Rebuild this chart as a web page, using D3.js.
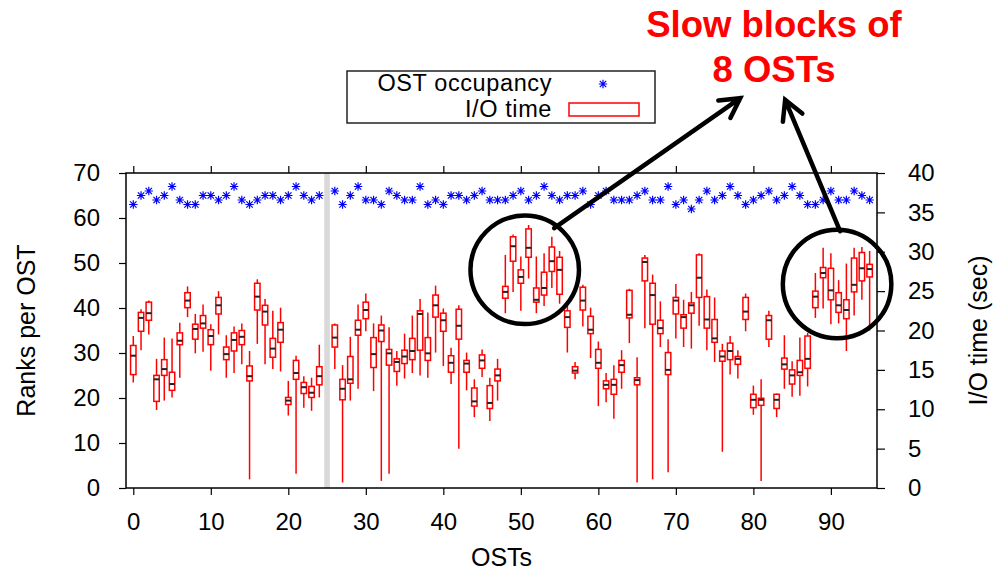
<!DOCTYPE html>
<html>
<head>
<meta charset="utf-8">
<script src="https://cdn.jsdelivr.net/npm/d3@7"></script>
<style>
  body { margin: 0; background: #fff; }
  svg { display: block; font-family: "Liberation Sans", Arial, Helvetica, sans-serif; }
</style>
</head>
<body>
<div id="container"></div>
<script>
// OST ids 0..95 (OST 25 has no data, marked with a gray bar)
const osts = d3.range(96);
const gapOst = 25;

// Ranks per OST (left axis)
const occupancy = [63,65,66,64,65,67,64,63,63,65, 65,64,65,67,64,63,64,65,65,64,
  65,67,65,64,65,null,66,63,65,67, 64,64,63,66,65,64,64,67,63,64,
  63,65,65,64,65,66,64,64,64,65, 66,64,65,67,65,64,65,65,66,63,
  65,66,64,64,64,65,66,64,64,67, 63,64,62,64,66,64,65,67,65,63,
  64,65,66,64,65,67,65,63,63,64, 66,64,64,66,65,64];

// I/O time (sec) box plots: whisker low, lower quartile, median, upper quartile, whisker high
const ioLow = [13.4,17.5,19.5,9.9,11.1,11.5,14.0,21.7,17.1,17.3, 14.9,19.5,14.0,14.6,15.7,1.1,18.3,15.7,15.1,14.8,
  9.2,1.8,10.2,9.8,11.5,null,15.1,0.7,11.1,12.6, 19.9,12.3,0.9,1.8,13.0,13.9,14.6,14.3,14.0,17.2,
  15.5,13.2,5.0,12.4,9.0,14.1,8.5,11.1,22.2,24.9, 22.5,26.6,22.2,23.1,25.4,23.4,17.2,13.8,20.5,16.5,
  10.4,10.9,8.8,12.6,18.4,0.7,20.3,1.1,17.9,2.0, 19.0,17.9,17.7,20.6,17.5,16.0,4.6,14.4,13.9,19.9,
  9.3,0.9,17.9,9.0,12.6,11.6,11.7,12.9,21.6,22.8, 20.8,20.9,17.4,21.9,23.9,20.0];
const ioQ1 = [14.4,19.9,21.3,11.0,14.3,12.4,18.2,22.9,18.9,20.3, 18.2,22.1,16.3,17.4,18.2,13.6,22.6,20.7,16.6,18.5,
  10.6,13.8,12.0,11.5,13.1,null,17.9,11.2,13.3,19.4, 21.5,15.3,18.6,15.6,14.8,15.8,16.3,17.5,16.2,21.7,
  19.9,14.7,18.9,14.7,10.4,15.2,10.1,13.6,24.1,28.8, 26.0,29.3,23.6,24.5,27.5,24.6,20.4,14.6,22.6,19.6,
  15.2,12.6,11.9,14.7,21.6,13.1,26.3,20.8,19.6,14.4, 22.1,20.3,22.2,24.2,20.3,18.5,16.1,16.3,15.7,21.4,
  10.2,10.5,18.9,10.1,15.1,13.2,14.3,15.2,22.9,26.7, 23.9,22.3,21.5,24.9,26.3,26.8];
const ioMed = [16.8,21.6,22.2,13.8,15.1,13.2,18.7,23.8,20.2,20.9, 19.3,23.2,17.0,18.8,19.2,14.2,24.3,22.4,17.7,20.1,
  11.1,14.6,12.8,12.1,14.2,null,19.1,12.6,13.8,20.1, 22.6,17.0,20.0,17.1,16.0,16.7,17.4,22.1,17.1,23.2,
  21.3,15.9,20.6,15.8,11.0,16.2,10.8,14.3,24.9,30.7, 26.8,30.5,23.9,25.4,28.8,27.7,21.7,14.9,23.8,20.1,
  15.9,13.1,13.1,15.6,22.0,13.7,28.7,24.5,20.3,15.0, 23.8,21.7,23.2,26.7,21.4,19.0,16.7,17.4,16.4,22.4,
  11.2,11.2,21.3,11.2,15.7,14.3,14.7,16.4,24.3,27.3, 25.1,23.2,22.6,25.8,27.9,27.8];
const ioQ3 = [18.1,22.3,23.6,14.3,16.3,14.7,19.7,24.8,20.8,21.9, 20.1,24.2,17.9,19.7,20.0,15.5,26.0,23.2,19.0,21.0,
  11.5,16.2,13.4,12.9,15.4,null,20.7,13.8,16.7,21.3, 23.6,19.1,20.7,17.6,16.4,17.5,19.0,22.5,19.1,24.5,
  22.2,16.8,22.7,16.2,12.7,16.9,13.0,15.1,25.6,31.9, 27.7,32.9,25.4,27.4,30.6,29.3,22.5,15.4,25.5,21.8,
  17.6,13.6,13.8,16.2,25.1,14.0,29.2,26.0,21.3,17.2, 24.2,22.0,23.5,29.6,24.3,21.4,17.4,18.4,16.7,24.2,
  11.9,11.4,21.9,11.9,16.5,15.0,16.2,19.3,25.0,28.0, 27.9,24.8,23.9,29.2,29.9,28.4];
const ioHigh = [19.3,22.7,23.8,16.4,19.1,19.0,21.0,25.6,22.1,23.3, 20.8,25.0,19.4,20.5,20.9,17.4,26.5,24.0,22.5,22.9,
  13.6,16.8,14.2,14.0,18.2,null,20.9,15.6,19.2,23.3, 24.7,20.9,21.9,20.4,17.4,19.6,21.9,24.0,22.3,25.7,
  22.8,17.8,23.2,17.2,13.8,17.6,14.0,16.4,29.6,32.2, 29.4,33.4,29.4,29.8,31.9,30.1,23.2,16.0,25.8,22.9,
  18.6,14.6,15.6,17.5,25.3,16.6,29.6,27.1,23.7,18.9, 25.9,23.9,24.9,29.8,25.2,24.2,18.3,19.3,17.5,24.7,
  13.0,13.8,22.5,12.0,19.4,16.1,19.1,19.7,27.3,30.5, 29.8,26.4,28.5,30.5,30.6,30.1];

// axis ticks
const xTicks = [0,10,20,30,40,50,60,70,80,90];
const rankTicks = [0,10,20,30,40,50,60,70];
const timeTicks = [0,5,10,15,20,25,30,35,40];

// annotation: circled slow blocks (center OST, center sec) and arrows (tail -> tip, in OST / sec)
const slowBlocks = [{ost: 50.5, sec: 27.7}, {ost: 90.8, sec: 25.9}];
const arrows = [
  {from: [54.3, 33.0], to: [78.3, 49.5]},
  {from: [91.2, 32.6], to: [84.1, 49.3]}
];

const W = 994, H = 571;
const margin = {top: 173, right: 117, bottom: 83, left: 126};
const w = W - margin.left - margin.right;
const h = H - margin.top - margin.bottom;
const FONT = 24;

const svg = d3.select("#container").append("svg")
  .attr("width", W).attr("height", H);

const g = svg.append("g").attr("transform", `translate(${margin.left},${margin.top})`);

//SCALES
const x = d3.scaleLinear().domain([-0.94, 95.95]).range([0, w]);
const yRank = d3.scaleLinear().domain([0, 70]).range([h, 0]);
const yTime = d3.scaleLinear().domain([0, 40]).range([h, 0]);

//AXES
function styleAxis(sel) {
  sel.attr("font-size", null).attr("font-family", null);
  sel.select(".domain").remove();
  sel.selectAll(".tick line").attr("stroke", "#000").attr("stroke-width", 1.2);
  sel.selectAll(".tick text").attr("fill", "#000").style("font-size", FONT + "px");
}

g.append("g").attr("transform", `translate(0,${h})`)
  .call(d3.axisBottom(x).tickValues(xTicks).tickSize(7).tickPadding(18))
  .call(styleAxis);
g.append("g")
  .call(d3.axisTop(x).tickValues(xTicks).tickSize(7).tickFormat(""))
  .call(styleAxis);
g.append("g")
  .call(d3.axisLeft(yRank).tickValues(rankTicks).tickSize(7).tickPadding(19))
  .call(styleAxis);
g.append("g").attr("transform", `translate(${w},0)`)
  .call(d3.axisRight(yTime).tickValues(timeTicks).tickSize(8).tickPadding(23))
  .call(styleAxis);

//GAP MARKER
g.append("rect")
  .attr("x", x(gapOst) - 2.8).attr("y", 0)
  .attr("width", 5.6).attr("height", h)
  .attr("fill", "#d9d9d9");

//BOX PLOTS
const boxes = osts.filter(i => ioMed[i] != null);
const bw = x(0.7) - x(0);
const bg = g.append("g");
bg.selectAll("line.whisk").data(boxes).enter().append("line")
  .attr("class", "whisk")
  .attr("x1", i => x(i)).attr("x2", i => x(i))
  .attr("y1", i => yTime(ioLow[i])).attr("y2", i => yTime(ioHigh[i]))
  .attr("stroke", "#ff0000").attr("stroke-width", 1.5);
bg.selectAll("rect").data(boxes).enter().append("rect")
  .attr("x", i => x(i) - bw / 2)
  .attr("y", i => yTime(ioQ3[i]))
  .attr("width", bw)
  .attr("height", i => yTime(ioQ1[i]) - yTime(ioQ3[i]))
  .attr("fill", "#fff").attr("stroke", "#ff0000").attr("stroke-width", 1.5);
bg.selectAll("line.med").data(boxes).enter().append("line")
  .attr("class", "med")
  .attr("x1", i => x(i) - bw / 2).attr("x2", i => x(i) + bw / 2)
  .attr("y1", i => yTime(ioMed[i])).attr("y2", i => yTime(ioMed[i]))
  .attr("stroke", "#222").attr("stroke-width", 2);

//OCCUPANCY STARS
const star = "M-4.2,0H4.2M0,-4.2V4.2M-3.2,-3.2L3.2,3.2M-3.2,3.2L3.2,-3.2";
g.append("g").selectAll("path")
  .data(osts.filter(i => occupancy[i] != null)).enter().append("path")
  .attr("d", star)
  .attr("transform", i => `translate(${x(i)},${yRank(occupancy[i])})`)
  .attr("stroke", "#0000ff").attr("stroke-width", 1.2).attr("fill", "none");

//FRAME
g.append("rect").attr("width", w).attr("height", h)
  .attr("fill", "none").attr("stroke", "#000").attr("stroke-width", 1.5);

//AXIS TITLES
svg.append("text").attr("x", margin.left + w / 2).attr("y", 566)
  .attr("text-anchor", "middle").style("font-size", "25px").text("OSTs");
svg.append("text").attr("transform", `translate(35,${margin.top + h / 2}) rotate(-90)`)
  .attr("text-anchor", "middle").style("font-size", "25px").text("Ranks per OST");
svg.append("text").attr("transform", `translate(987,${margin.top + h / 2}) rotate(-90)`)
  .attr("text-anchor", "middle").style("font-size", "25px").text("I/O time (sec)");

//LEGEND
const legend = svg.append("g");
legend.append("rect").attr("x", 347).attr("y", 71).attr("width", 308).attr("height", 52)
  .attr("fill", "#fff").attr("stroke", "#222").attr("stroke-width", 1.5);
legend.append("text").attr("x", 552).attr("y", 90.5).attr("text-anchor", "end")
  .style("font-size", "23.5px").style("letter-spacing", "0.6px").text("OST occupancy");
legend.append("path").attr("d", star).attr("transform", "translate(603,84)")
  .attr("stroke", "#0000ff").attr("stroke-width", 1.2);
legend.append("text").attr("x", 552).attr("y", 117).attr("text-anchor", "end")
  .style("font-size", "23.5px").style("letter-spacing", "0.6px").text("I/O time");
legend.append("rect").attr("x", 569).attr("y", 103).attr("width", 70).attr("height", 13)
  .attr("fill", "none").attr("stroke", "#ff0000").attr("stroke-width", 1.5);

//ANNOTATION
const ann = g.append("g");
ann.selectAll("circle").data(slowBlocks).enter().append("circle")
  .attr("cx", d => x(d.ost)).attr("cy", d => yTime(d.sec))
  .attr("r", x(7) - x(0))
  .attr("fill", "none").attr("stroke", "#000").attr("stroke-width", 4.5);

arrows.forEach(a => {
  const x1 = x(a.from[0]), y1 = yTime(a.from[1]);
  const x2 = x(a.to[0]), y2 = yTime(a.to[1]);
  const ang = Math.atan2(y2 - y1, x2 - x1);
  const len = 22, spread = 0.5;
  const p1 = [x2 - len * Math.cos(ang - spread), y2 - len * Math.sin(ang - spread)];
  const p2 = [x2 - len * Math.cos(ang + spread), y2 - len * Math.sin(ang + spread)];
  ann.append("path")
    .attr("d", `M${x1},${y1}L${x2},${y2}M${p1[0]},${p1[1]}L${x2},${y2}L${p2[0]},${p2[1]}`)
    .attr("fill", "none").attr("stroke", "#000").attr("stroke-width", 4.5)
    .attr("stroke-linecap", "round").attr("stroke-linejoin", "miter");
});

svg.append("text").attr("x", 774).attr("y", 37).attr("text-anchor", "middle")
  .attr("fill", "#ff0000").style("font-size", "36.5px").style("font-weight", "bold")
  .text("Slow blocks of");
svg.append("text").attr("x", 774).attr("y", 82).attr("text-anchor", "middle")
  .attr("fill", "#ff0000").style("font-size", "36.5px").style("font-weight", "bold")
  .text("8 OSTs");
</script>
</body>
</html>
